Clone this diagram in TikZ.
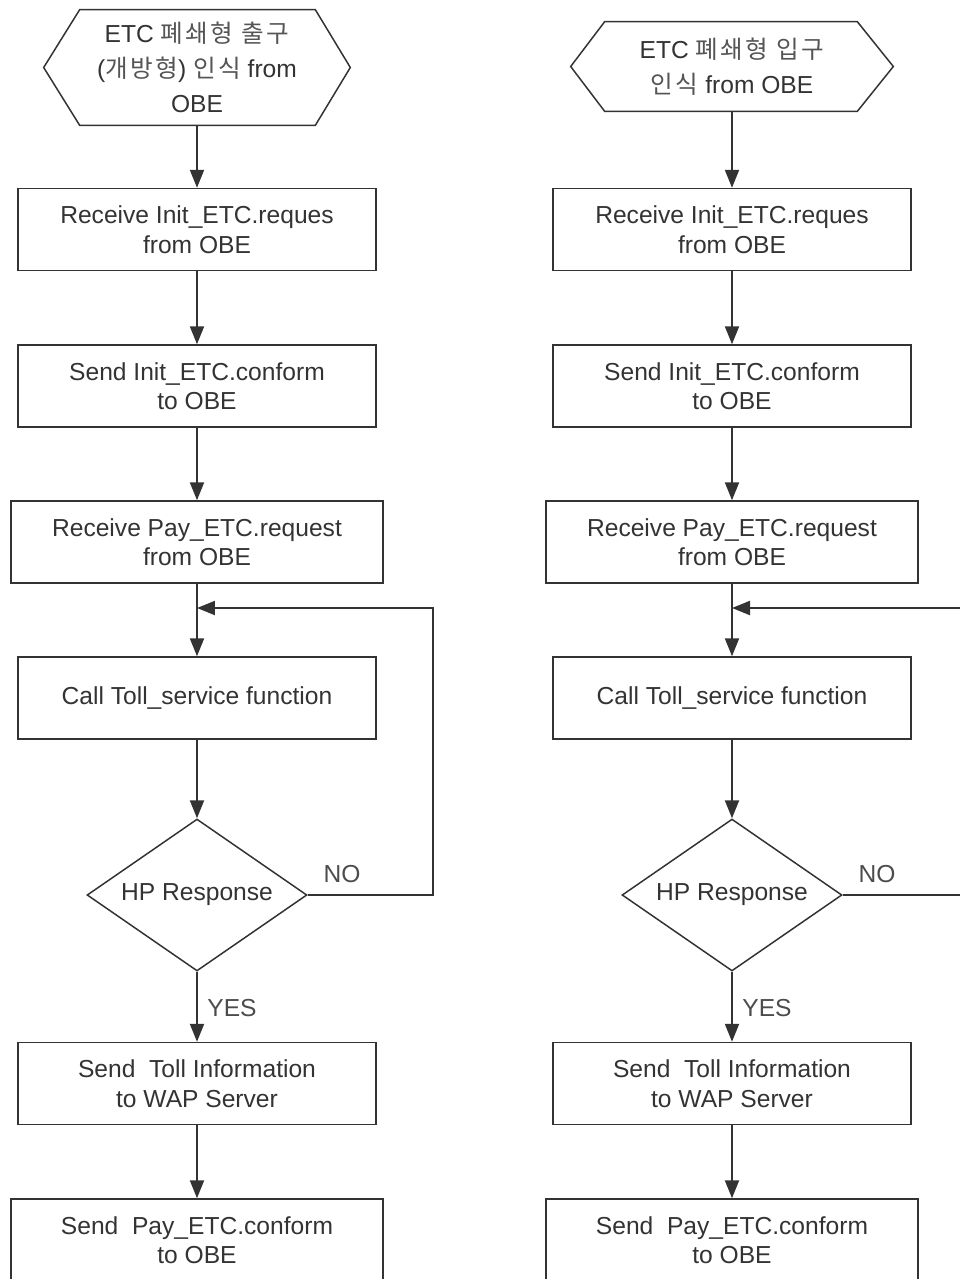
\documentclass[tikz,border=0pt]{standalone}
\usepackage{fontspec}
\setmainfont{Liberation Sans}
\newfontfamily\kr[LetterSpace=10,Color=555555]{Noto Sans CJK KR}
\usetikzlibrary{arrows.meta,calc,shapes.geometric}

\begin{document}
\begin{tikzpicture}[x=0.02cm,y=-0.02cm,>={Triangle[length=0.36cm,width=0.28cm]},
    every node/.style={text=black!80,font=\fontsize{14pt}{16.8pt}\selectfont},
    stepbox/.style={draw=black!80,line width=0.85pt,align=center,
      minimum width=7.16cm,minimum height=1.64cm,inner sep=0pt},
    widebox/.style={stepbox,minimum width=7.44cm},
    hexbox/.style={align=center,inner sep=0pt,font=\fontsize{14pt}{20pt}\selectfont},
    hexline/.style={draw=black!80,line width=0.85pt,line join=miter},
    decide/.style={diamond,draw=black!80,line width=0.85pt,aspect=1.45,
      minimum width=4.4cm,minimum height=3.04cm,inner sep=0pt},
    flow/.style={->,draw=black!80,line width=1.2pt},
    lbl/.style={text=black!70,inner sep=0pt}]
  \useasboundingbox (0,0) rectangle (960,1279);

  % left column
  \node[hexbox,minimum width=6.12cm,minimum height=2.3cm] (startL) at (197,67.5)
    {ETC {\kr 폐쇄형 출구}\\({\kr 개방형}) {\kr 인식} from\\OBE};
  \draw[hexline] (startL.west) -- ($(startL.north west)+(36,0)$) -- ($(startL.north east)+(-35,0)$)
    -- (startL.east) -- ($(startL.south east)+(-35,0)$) -- ($(startL.south west)+(36,0)$) -- cycle;
  \node[stepbox] (initReqL) at (197,229.5) {Receive Init\_ETC.reques\\from OBE};
  \node[stepbox] (initConfL) at (197,386) {Send Init\_ETC.conform\\to OBE};
  \node[widebox] (payReqL) at (197,542) {Receive Pay\_ETC.request\\from OBE};
  \node[stepbox] (tollL) at (197,698) {Call Toll\_service function};
  \node[decide] (hpL) at (197,895) {HP Response};
  \node[stepbox] (wapL) at (197,1083.5) {Send\ \ Toll Information\\to WAP Server};
  \node[widebox] (payConfL) at (197,1240) {Send\ \ Pay\_ETC.conform\\to OBE};
  \coordinate (joinL) at (197,608);
  \coordinate (loopL) at (433,608);
  \node[lbl] (noL) at (342,874) {NO};
  \node[lbl] (yesL) at (232,1008) {YES};

  \draw[flow] (startL) -- (initReqL);
  \draw[flow] (initReqL) -- (initConfL);
  \draw[flow] (initConfL) -- (payReqL);
  \draw[flow] (payReqL) -- (tollL);
  \draw[flow] (tollL) -- (hpL);
  \draw[flow] (hpL) -- (wapL);
  \draw[flow] (wapL) -- (payConfL);
  \draw[flow] (hpL.east) -| (loopL) -- (joinL);

  % right column
  \node[hexbox,minimum width=6.44cm,minimum height=1.78cm] (startR) at (732,66.5)
    {ETC {\kr 폐쇄형 입구}\\{\kr 인식} from OBE};
  \draw[hexline] (startR.west) -- ($(startR.north west)+(34,0)$) -- ($(startR.north east)+(-36,0)$)
    -- (startR.east) -- ($(startR.south east)+(-36,0)$) -- ($(startR.south west)+(34,0)$) -- cycle;
  \node[stepbox] (initReqR) at (732,229.5) {Receive Init\_ETC.reques\\from OBE};
  \node[stepbox] (initConfR) at (732,386) {Send Init\_ETC.conform\\to OBE};
  \node[widebox] (payReqR) at (732,542) {Receive Pay\_ETC.request\\from OBE};
  \node[stepbox] (tollR) at (732,698) {Call Toll\_service function};
  \node[decide] (hpR) at (732,895) {HP Response};
  \node[stepbox] (wapR) at (732,1083.5) {Send\ \ Toll Information\\to WAP Server};
  \node[widebox] (payConfR) at (732,1240) {Send\ \ Pay\_ETC.conform\\to OBE};
  \coordinate (joinR) at (732,608);
  \coordinate (loopR) at (975,608);
  \node[lbl] (noR) at (877,874) {NO};
  \node[lbl] (yesR) at (767,1008) {YES};

  \draw[flow] (startR) -- (initReqR);
  \draw[flow] (initReqR) -- (initConfR);
  \draw[flow] (initConfR) -- (payReqR);
  \draw[flow] (payReqR) -- (tollR);
  \draw[flow] (tollR) -- (hpR);
  \draw[flow] (hpR) -- (wapR);
  \draw[flow] (wapR) -- (payConfR);
  \draw[flow] (hpR.east) -| (loopR) -- (joinR);
\end{tikzpicture}
\end{document}
